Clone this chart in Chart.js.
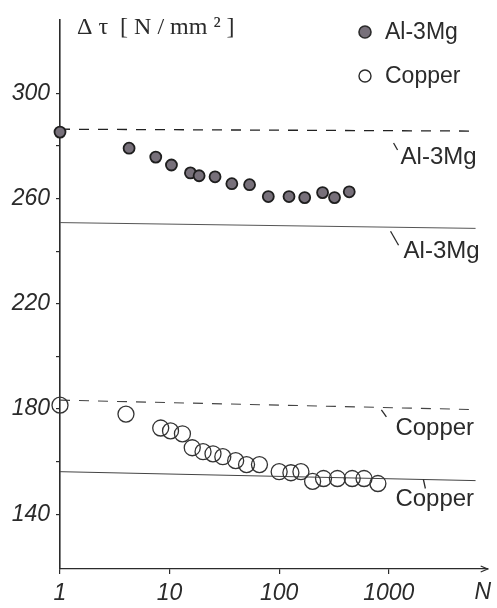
<!DOCTYPE html>
<html>
<head>
<meta charset="utf-8">
<script src="https://cdn.jsdelivr.net/npm/chart.js@4/dist/chart.umd.min.js"></script>
<style>
html,body{margin:0;padding:0;background:#fff;}
#wrap{width:497px;height:608px;position:relative;}
</style>
</head>
<body>
<div id="wrap"><canvas id="c" width="497" height="608"></canvas></div>
<script>
// ---- data ----
const nAl   = [1, 4.27, 7.48, 10.4, 15.5, 18.6, 26.0, 37.0, 53.7, 79.6, 123, 171, 249, 320, 436];
const tauAl = [285.3, 279.2, 275.8, 272.8, 269.8, 268.7, 268.3, 265.7, 265.3, 260.8, 260.8, 260.4, 262.3, 260.4, 262.6];

const nCu   = [1, 4.0, 8.3, 10.2, 13.1, 16.1, 20.2, 24.9, 30.6, 40.1, 50.4, 66.1, 100, 128, 158, 202, 254, 340, 464, 595, 796];
const tauCu = [181.5, 178.1, 172.8, 171.7, 170.6, 165.3, 163.8, 163.0, 161.9, 160.4, 158.9, 158.9, 156.2, 155.8, 156.2, 152.5, 153.6, 153.6, 153.6, 153.6, 151.7];

const refN     = [1, 6200];
const alDashed = [286.4, 285.7];
const alSolid  = [250.9, 248.7];
const cuDashed = [183.4, 179.8];
const cuSolid  = [156.2, 152.8];

const xTicks = [1, 10, 100, 1000];
const yTicks = [140, 160, 180, 200, 220, 240, 260, 280, 300];
const yLabelled = [140, 180, 220, 260, 300];

const seriesNames = ['Al-3Mg', 'Copper'];
const lineLabels = ['Al-3Mg', 'Al-3Mg', 'Copper', 'Copper'];
const lineLabelN   = [1282, 1365, 1150, 1150];
const lineLabelTau = [276.2, 240.4, 173.2, 146.0];

// ---- helpers ----
const pts = (xs, ys) => xs.map((x, i) => ({x: x, y: ys[i]}));

const INK = '#2b2b2b';
const AL_FILL = '#77707a';

const annot = {
  id: 'annot',
  afterDraw(chart) {
    const ctx = chart.ctx;
    const xs = chart.scales.x, ys = chart.scales.y;
    ctx.save();
    // axis title
    ctx.fillStyle = INK;
    ctx.font = '24px "Liberation Serif", serif';
    ctx.textBaseline = 'middle';
    ctx.textAlign = 'left';
    ctx.fillText('\u0394 \u03c4  [ N / mm \u00b2 ]', 77, 28);

    // N label at end of x-axis
    ctx.font = 'italic 23px "Liberation Sans", Arial, sans-serif';
    ctx.textAlign = 'center';
    ctx.fillText('N', xs.right - 5, 593);

    // arrow head on x axis
    const ay = xs.top;
    ctx.strokeStyle = INK;
    ctx.lineWidth = 1.2;
    ctx.beginPath();
    ctx.moveTo(xs.right - 7, ay - 3);
    ctx.lineTo(xs.right, ay);
    ctx.lineTo(xs.right - 7, ay + 3);
    ctx.stroke();

    // legend
    ctx.font = '23px "Liberation Sans", Arial, sans-serif';
    ctx.textAlign = 'left';
    ctx.beginPath();
    ctx.arc(365, 32, 6, 0, Math.PI * 2);
    ctx.fillStyle = AL_FILL; ctx.fill();
    ctx.lineWidth = 1.6; ctx.strokeStyle = INK; ctx.stroke();
    ctx.fillStyle = INK;
    ctx.fillText(seriesNames[0], 385, 33);
    ctx.beginPath();
    ctx.arc(365, 76, 6, 0, Math.PI * 2);
    ctx.lineWidth = 1.4; ctx.stroke();
    ctx.fillText(seriesNames[1], 385, 77);

    // line labels with small tick marks
    ctx.font = '24px "Liberation Sans", Arial, sans-serif';
    const tickOff = [[-7, -13, -3, -6], [-13, -19, -5, -5], [-14, -17, -9, -10], [28, -19, 30, -10]];
    lineLabels.forEach((t, i) => {
      const px = xs.getPixelForValue(lineLabelN[i]);
      const py = ys.getPixelForValue(lineLabelTau[i]);
      ctx.fillStyle = INK;
      ctx.fillText(t, px, py + 1);
      const o = tickOff[i];
      ctx.beginPath();
      ctx.lineWidth = 1.3;
      ctx.moveTo(px + o[0], py + o[1]);
      ctx.lineTo(px + o[2], py + o[3]);
      ctx.stroke();
    });
    ctx.restore();
  }
};

const refLine = (data, dashed, w, col) => ({
  type: 'scatter', data: pts(refN, data), showLine: true,
  borderColor: col, borderWidth: w, borderDash: dashed ? [10, 9] : [],
  pointRadius: 0, order: 2, fill: false
});

new Chart(document.getElementById('c'), {
  type: 'scatter',
  data: {
    datasets: [
      refLine(alDashed, true, 1.3, '#222'),
      refLine(alSolid, false, 1.0, '#555'),
      refLine(cuDashed, true, 1.1, '#444'),
      refLine(cuSolid, false, 1.0, '#444'),
      {
        label: seriesNames[0], data: pts(nAl, tauAl), clip: false,
        pointRadius: 5.5, pointBackgroundColor: AL_FILL,
        pointBorderColor: '#1e1e1e', pointBorderWidth: 1.8, order: 1
      },
      {
        label: seriesNames[1], data: pts(nCu, tauCu), clip: false,
        pointRadius: 8, pointBackgroundColor: 'rgba(0,0,0,0)',
        pointBorderColor: '#333', pointBorderWidth: 1.3, order: 1
      }
    ]
  },
  options: {
    responsive: false,
    animation: false,
    devicePixelRatio: 1,
    layout: {padding: {top: 15, right: 4, left: 0, bottom: 0}},
    plugins: {legend: {display: false}, tooltip: {enabled: false}},
    scales: {
      x: {
        type: 'logarithmic', min: 1, max: 8000,
        afterBuildTicks: s => { s.ticks = xTicks.map(v => ({value: v})); },
        afterFit: s => { s.height = 39; },
        ticks: {
          callback: v => String(v),
          color: INK, padding: 6, maxRotation: 0, autoSkip: false,
          font: {family: '"Liberation Sans", Arial, sans-serif', size: 23, style: 'italic'}
        },
        grid: {display: true, drawOnChartArea: false, drawTicks: true, tickLength: 5, color: INK, lineWidth: 1.2},
        border: {display: true, color: INK, width: 1.3}
      },
      y: {
        type: 'linear', min: 119.2, max: 328,
        afterBuildTicks: s => { s.ticks = yTicks.map(v => ({value: v})); },
        afterFit: s => { s.width = 60; },
        ticks: {
          callback: v => yLabelled.includes(v) ? String(v) : '',
          color: INK, padding: 6, autoSkip: false,
          font: {family: '"Liberation Sans", Arial, sans-serif', size: 23, style: 'italic'}
        },
        grid: {display: true, drawOnChartArea: false, drawTicks: true, tickLength: 4, color: INK, lineWidth: 1.2},
        border: {display: true, color: INK, width: 1.6}
      }
    }
  },
  plugins: [annot]
});
</script>
</body>
</html>
